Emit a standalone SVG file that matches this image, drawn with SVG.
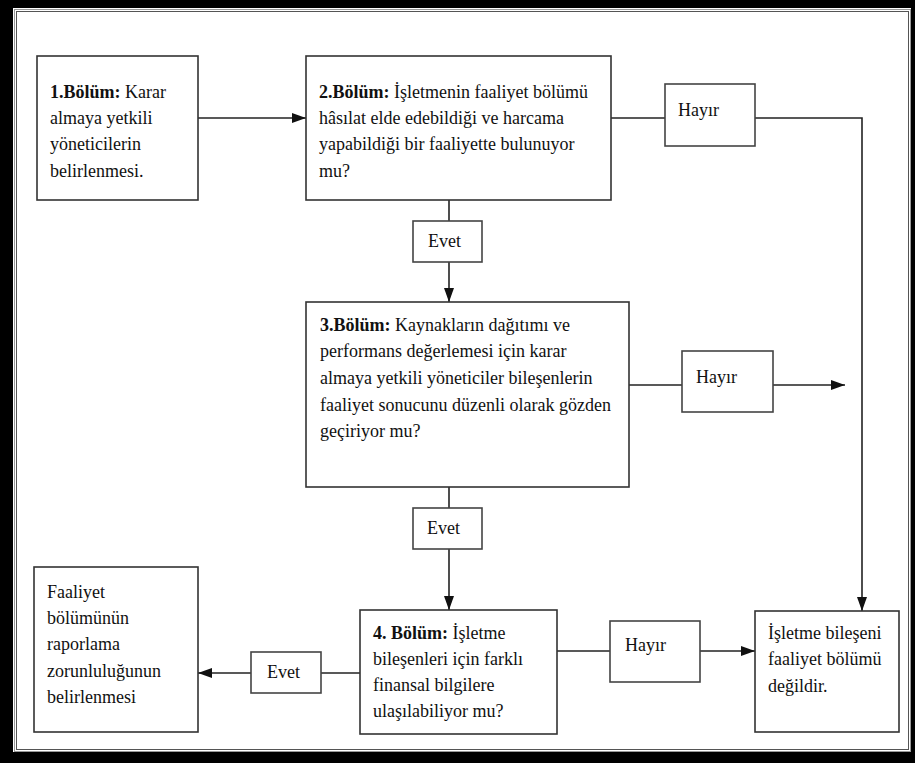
<svg xmlns="http://www.w3.org/2000/svg" width="915" height="763" viewBox="0 0 915 763">
<defs>
<marker id="ah" markerUnits="userSpaceOnUse" markerWidth="14" markerHeight="10" refX="14" refY="5" orient="auto">
<path d="M0,0 L14,5 L0,10 z" fill="#111"/>
</marker>
<style>
.box{fill:#fff;stroke:#333;stroke-width:1.6}
.lbl{fill:#fff;stroke:#444;stroke-width:1.6}
.t{font-family:"Liberation Serif","Times New Roman",serif;font-size:18px;fill:#111}
.b{font-weight:bold}
.c{fill:none;stroke:#222;stroke-width:1.6}
.ca{fill:none;stroke:#222;stroke-width:1.6;marker-end:url(#ah)}
</style>
</defs>
<rect x="0" y="0" width="915" height="763" fill="#fff"/>
<g id="frame">
<rect x="0" y="0" width="915" height="8" fill="#000"/>
<rect x="0" y="0" width="13" height="763" fill="#000"/>
<rect x="0" y="752" width="915" height="11" fill="#000"/>
<rect x="911" y="0" width="4" height="763" fill="#000"/>
<rect x="14.5" y="9.5" width="896" height="742" fill="none" stroke="#999" stroke-width="1"/>
<rect x="16.5" y="11.5" width="892" height="738" fill="none" stroke="#555" stroke-width="1"/>
</g>
<g id="connectors">
<line class="ca" x1="198" y1="118" x2="306" y2="118"/>
<line class="c" x1="611" y1="118" x2="665" y2="118"/>
<polyline class="ca" points="755,118 862,118 862,611"/>
<line class="c" x1="449" y1="200" x2="449" y2="221"/>
<line class="ca" x1="449" y1="262" x2="449" y2="302"/>
<line class="c" x1="629" y1="385" x2="682" y2="385"/>
<line class="ca" x1="773" y1="385" x2="845" y2="385"/>
<line class="c" x1="449" y1="487" x2="449" y2="508"/>
<line class="ca" x1="449" y1="549" x2="449" y2="610"/>
<line class="c" x1="557" y1="651" x2="610" y2="651"/>
<line class="ca" x1="700" y1="651" x2="755" y2="651"/>
<line class="c" x1="360" y1="673" x2="321" y2="673"/>
<line class="ca" x1="251" y1="673" x2="198" y2="673"/>
</g>
<g id="n1">
<rect class="box" x="37" y="56" width="161" height="144"/>
<text class="t" x="50" y="98"><tspan class="b">1.Bölüm:</tspan> Karar</text>
<text class="t" x="50" y="124">almaya yetkili</text>
<text class="t" x="50" y="150">yöneticilerin</text>
<text class="t" x="50" y="177">belirlenmesi.</text>
</g>
<g id="n2">
<rect class="box" x="306" y="56" width="305" height="144"/>
<text class="t" x="319" y="98"><tspan class="b">2.Bölüm:</tspan> İşletmenin faaliyet bölümü</text>
<text class="t" x="319" y="124">hâsılat elde edebildiği ve harcama</text>
<text class="t" x="319" y="150">yapabildiği bir faaliyette bulunuyor</text>
<text class="t" x="319" y="177">mu?</text>
</g>
<g id="h1">
<rect class="lbl" x="665" y="84" width="90" height="62"/>
<text class="t" x="678" y="116">Hayır</text>
</g>
<g id="e1">
<rect class="lbl" x="413" y="221" width="69" height="41"/>
<text class="t" x="428" y="247">Evet</text>
</g>
<g id="n3">
<rect class="box" x="306" y="302" width="323" height="185"/>
<text class="t" x="320" y="331"><tspan class="b">3.Bölüm:</tspan> Kaynakların dağıtımı ve</text>
<text class="t" x="320" y="357">performans değerlemesi için karar</text>
<text class="t" x="320" y="384">almaya yetkili yöneticiler bileşenlerin</text>
<text class="t" x="320" y="411">faaliyet sonucunu düzenli olarak gözden</text>
<text class="t" x="320" y="437">geçiriyor mu?</text>
</g>
<g id="h2">
<rect class="lbl" x="682" y="351" width="91" height="61"/>
<text class="t" x="696" y="383">Hayır</text>
</g>
<g id="e2">
<rect class="lbl" x="413" y="508" width="69" height="41"/>
<text class="t" x="427" y="534">Evet</text>
</g>
<g id="n4">
<rect class="box" x="360" y="610" width="197" height="124"/>
<text class="t" x="373" y="639"><tspan class="b">4. Bölüm:</tspan> İşletme</text>
<text class="t" x="373" y="665">bileşenleri için farklı</text>
<text class="t" x="373" y="691">finansal bilgilere</text>
<text class="t" x="373" y="717">ulaşılabiliyor mu?</text>
</g>
<g id="h3">
<rect class="lbl" x="610" y="621" width="90" height="61"/>
<text class="t" x="625" y="651">Hayır</text>
</g>
<g id="n5">
<rect class="box" x="755" y="611" width="144" height="121"/>
<text class="t" x="768" y="639">İşletme bileşeni</text>
<text class="t" x="768" y="665">faaliyet bölümü</text>
<text class="t" x="768" y="692">değildir.</text>
</g>
<g id="e3">
<rect class="lbl" x="251" y="652" width="70" height="41"/>
<text class="t" x="267" y="678">Evet</text>
</g>
<g id="n6">
<rect class="box" x="34" y="567" width="164" height="165"/>
<text class="t" x="47" y="598">Faaliyet</text>
<text class="t" x="47" y="624">bölümünün</text>
<text class="t" x="47" y="650">raporlama</text>
<text class="t" x="47" y="677">zorunluluğunun</text>
<text class="t" x="47" y="703">belirlenmesi</text>
</g>
</svg>
